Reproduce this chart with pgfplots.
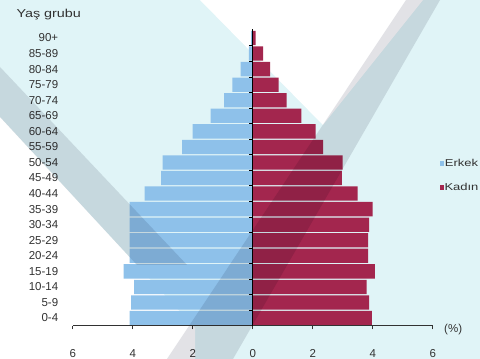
\documentclass[border=0pt]{standalone}
\usepackage{fontspec}
\setmainfont{Liberation Sans}
\usepackage{graphicx}
\usepackage{pgfplots}
\pgfplotsset{compat=1.18}
\definecolor{bgcyan}{RGB}{224,244,247}
\definecolor{bandgray}{RGB}{226,226,230}
\definecolor{male}{RGB}{142,193,234}
\definecolor{female}{RGB}{163,38,78}
\definecolor{txt}{RGB}{50,50,50}
\newcommand\lf{\fontsize{11.5}{13.8}\selectfont}
\newcommand\legf{\fontsize{10}{12}\selectfont}
\begin{document}
\begin{tikzpicture}
\useasboundingbox (0pt,0pt) rectangle (480pt,359pt);
\clip (0pt,0pt) rectangle (480pt,359pt);
\fill[bgcyan] (0pt,0pt) rectangle (480pt,359pt);
\fill[white] (200pt,359pt) -- (423pt,359pt) -- (323pt,234pt) -- cycle;
\fill[white] (0pt,242pt) -- (195pt,31pt) -- (195pt,0pt) -- (0pt,0pt) -- cycle;
\begin{axis}[
  at={(72.7pt,33.2pt)}, anchor=south west,
  scale only axis, width=360pt, height=297.1pt,
  xmin=-6, xmax=6, ymin=-0.5, ymax=18.6,
  clip=false, axis on top,
  axis x line=bottom, axis y line=center,
  x axis line style={-, draw=txt, line width=0.8pt},
  y axis line style={-, draw=black, line width=1.3pt},
  xtick={-6,-4,-2,0,2,4,6},
  xticklabels={6,4,2,0,2,4,6},
  ytick={-0.5,0.5,...,17.5},
  yticklabels={},
  extra y ticks={0,...,18},
  extra y tick labels={0-4,5-9,10-14,15-19,20-24,25-29,30-34,35-39,40-44,45-49,50-54,55-59,60-64,65-69,70-74,75-79,80-84,85-89,90+},
  extra y tick style={major tick length=0pt, major y tick style={draw=none},
    yticklabel style={font=\lf, text=txt, anchor=east, xshift=-191pt}},
  xtick align=outside, ytick align=outside,
  major tick length=3.5pt,
  major x tick style={draw=txt, line width=0.6pt},
  major y tick style={draw=black, line width=0.7pt},
  xticklabel style={font=\lf, text=txt, yshift=-17pt},
  /pgf/number format/assume math mode=true,
  xlabel={(\%)},
  every axis x label/.style={at={(axis cs:6,-0.5)}, anchor=west, xshift=8pt, yshift=-4pt, font=\lf, text=txt},
  ylabel={\scalebox{1.25}[1]{Yaş grubu}},
  every axis y label/.style={at={(axis cs:-7.99,19.5)}, anchor=west, font=\lf, text=txt},
  legend style={at={(axis cs:6.22,9.16)}, anchor=west, draw=none, fill=none,
    inner sep=0pt, row sep=13pt, font=\legf, text=txt, nodes={inner sep=1pt}},
  legend image code/.code={\fill[#1,draw=none] (0pt,-2.5pt) rectangle (4pt,2.5pt);},
]
\addplot[xbar, bar shift=0pt, bar width=0.92, fill=male, draw=none] coordinates {
(-4.10,0) (-4.05,1) (-3.95,2) (-4.30,3) (-4.10,4) (-4.10,5) (-4.10,6) (-4.10,7)
(-3.60,8) (-3.05,9) (-3.00,10) (-2.35,11) (-2.00,12) (-1.40,13) (-0.95,14)
(-0.68,15) (-0.40,16) (-0.13,17) (-0.05,18)};
\addlegendentry{\scalebox{1.3}[1]{Erkek}}
\addplot[xbar, bar shift=0pt, bar width=0.92, fill=female, draw=none] coordinates {
(3.97,0) (3.88,1) (3.80,2) (4.07,3) (3.85,4) (3.85,5) (3.88,6) (4.00,7)
(3.50,8) (2.97,9) (3.00,10) (2.35,11) (2.10,12) (1.62,13) (1.13,14)
(0.86,15) (0.58,16) (0.35,17) (0.10,18)};
\addlegendentry{\scalebox{1.3}[1]{Kadın}}
\end{axis}
\begin{scope}[blend mode=multiply]
\fill[bandgray] (406pt,359pt) -- (440pt,359pt) -- (233pt,0pt) -- (167pt,0pt) -- cycle;
\fill[bandgray] (0pt,292pt) -- (187pt,94pt) -- (137pt,94pt) -- (0pt,242pt) -- cycle;
\end{scope}
\end{tikzpicture}
\end{document}
